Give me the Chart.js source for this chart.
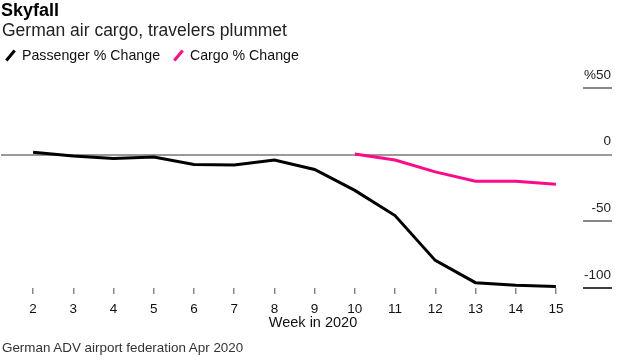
<!DOCTYPE html>
<html>
<head>
<meta charset="utf-8">
<script src="https://cdn.jsdelivr.net/npm/chart.js@4"></script>
<style>
  body { margin: 0; width: 621px; height: 360px; position: relative; font-family: "Liberation Sans", Arial, sans-serif; color: #000; overflow: hidden; background: #fff; }
  #wrap { position: absolute; left: 0; top: 0; width: 621px; height: 360px; }
  .txt { position: absolute; white-space: nowrap; }
  #title { left: 1px; top: 0px; font-size: 18px; font-weight: bold; }
  #subtitle { left: 2px; top: 20px; font-size: 17.5px; color: #222; }
  #legend { left: 4px; top: 47px; font-size: 14.2px; color: #111; }
  .item { display: inline-block; margin-right: 8px; }
  .swatch { display: inline-block; width: 13px; height: 3px; transform: rotate(-50deg); vertical-align: middle; margin-right: 5px; position: relative; top: -1px; }
  #xtitle { left: 313px; top: 314px; font-size: 14.5px; transform: translateX(-50%); color: #111; }
  #source { left: 2px; top: 340px; font-size: 13.4px; color: #333; }
</style>
</head>
<body>
<div id="wrap"><canvas id="chart" width="621" height="360"></canvas></div>
<div class="txt" id="title">Skyfall</div>
<div class="txt" id="subtitle">German air cargo, travelers plummet</div>
<div class="txt" id="legend">
  <span class="item"><span class="swatch" style="background:#000"></span>Passenger % Change</span>
  <span class="item"><span class="swatch" style="background:#ff0a8a"></span>Cargo % Change</span>
</div>
<div class="txt" id="xtitle">Week in 2020</div>
<div class="txt" id="source">German ADV airport federation Apr 2020</div>

<script>
const weeks = ["2", "3", "4", "5", "6", "7", "8", "9", "10", "11", "12", "13", "14", "15"];
const passenger = [1.8, -1, -2.8, -1.8, -7.3, -7.8, -4, -11.1, -26.8, -45.7, -79.3, -96, -98, -98.8];
const cargo = [null, null, null, null, null, null, null, null, 0.5, -4, -12.9, -20, -20, -22.2];
const yTicks = [50, 0, -50, -100];

/* short gridlines at the right and the full zero line */
const gridPlugin = {
  id: "gridPlugin",
  beforeDatasetsDraw(chart) {
    const ctx = chart.ctx;
    const y = chart.scales.y;
    ctx.save();
    yTicks.forEach(v => {
      const py = Math.round(y.getPixelForValue(v));
      ctx.beginPath();
      if (v === 0) {
        ctx.strokeStyle = "#999";
        ctx.lineWidth = 2;
        ctx.moveTo(1, py);
        ctx.lineTo(612, py);
      } else {
        ctx.strokeStyle = v === -100 ? "#000" : "#888";
        ctx.lineWidth = v === -100 ? 1.5 : 2;
        ctx.moveTo(583, py);
        ctx.lineTo(612, py);
      }
      ctx.stroke();
    });
    ctx.restore();
  }
};

new Chart(document.getElementById("chart"), {
  type: "line",
  data: {
    labels: weeks,
    datasets: [
      {
        label: "Passenger % Change",
        data: passenger,
        borderColor: "#000",
        borderWidth: 3,
        pointRadius: 0,
        tension: 0
      },
      {
        label: "Cargo % Change",
        data: cargo,
        borderColor: "#ff0a8a",
        borderWidth: 3,
        pointRadius: 0,
        tension: 0
      }
    ]
  },
  options: {
    responsive: false,
    animation: false,
    layout: { padding: { left: 13, right: 10, top: 88, bottom: 42 } },
    plugins: {
      legend: { display: false },
      tooltip: { enabled: false }
    },
    scales: {
      x: {
        offset: true,
        grid: { drawOnChartArea: false, drawTicks: true, tickLength: 6, color: "#888", lineWidth: 1.5, offset: false },
        border: { display: false },
        ticks: { color: "#111", font: { family: "Liberation Sans", size: 13.5 }, padding: 7, maxRotation: 0, autoSkip: false },
        afterFit(scale) { scale.height = 30; }
      },
      y: {
        position: "right",
        min: -100,
        max: 50,
        afterBuildTicks(scale) { scale.ticks = yTicks.map(v => ({ value: v })); },
        grid: { display: false },
        border: { display: false },
        ticks: {
          crossAlign: "far",
          labelOffset: -13,
          padding: 0,
          color: "#222",
          font: { family: "Liberation Sans", size: 13.5 },
          callback: v => (v === 50 ? "%50" : String(v))
        },
        afterFit(scale) { scale.width = 35; }
      }
    }
  },
  plugins: [gridPlugin]
});
</script>
</body>
</html>
